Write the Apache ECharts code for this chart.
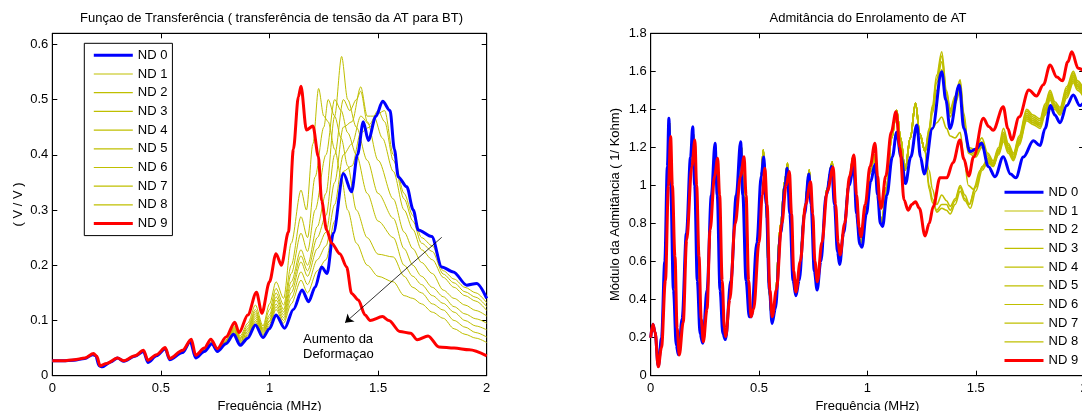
<!DOCTYPE html>
<html><head><meta charset="utf-8">
<script src="https://cdn.jsdelivr.net/npm/echarts@6/dist/echarts.min.js"></script>
<style>html,body{margin:0;padding:0;overflow:hidden;background:#fff}#c{width:1090px;height:411px}</style>
</head><body><div id="c"></div>
<script>
// ---------- tick values ----------
const xTickValues = [0, 0.5, 1, 1.5, 2];
const leftYTickValues = [0, 0.1, 0.2, 0.3, 0.4, 0.5, 0.6];
const rightYTickValues = [0, 0.2, 0.4, 0.6, 0.8, 1, 1.2, 1.4, 1.6, 1.8];
const seriesNames = ['ND 0','ND 1','ND 2','ND 3','ND 4','ND 5','ND 6','ND 7','ND 8','ND 9'];

// ---------- LEFT PANEL: Função de Transferência ----------
const leftND0 = [[0,0.027],[0.05,0.027],[0.1,0.028],[0.15,0.031],[0.185,0.038],[0.2,0.036],[0.215,0.018],[0.23,0.016],[0.27,0.025],[0.3,0.032],[0.33,0.026],[0.38,0.035],[0.42,0.044],[0.44,0.024],[0.48,0.036],[0.52,0.049],[0.54,0.029],[0.6,0.042],[0.635,0.062],[0.66,0.032],[0.7,0.044],[0.735,0.058],[0.76,0.044],[0.8,0.058],[0.835,0.075],[0.865,0.055],[0.9,0.068],[0.935,0.092],[0.97,0.069],[1.0,0.085],[1.03,0.11],[1.07,0.086],[1.11,0.12],[1.15,0.155],[1.18,0.134],[1.21,0.16],[1.24,0.197],[1.265,0.185],[1.294,0.258],[1.34,0.366],[1.378,0.333],[1.405,0.4],[1.432,0.46],[1.455,0.426],[1.49,0.47],[1.521,0.497],[1.555,0.48],[1.575,0.41],[1.593,0.36],[1.632,0.342],[1.662,0.3],[1.685,0.264],[1.747,0.252],[1.793,0.197],[1.846,0.188],[1.908,0.164],[1.954,0.167],[2.0,0.14]];
const leftND9 = [[0,0.027],[0.05,0.027],[0.1,0.029],[0.15,0.032],[0.19,0.04],[0.205,0.035],[0.22,0.018],[0.25,0.022],[0.3,0.032],[0.33,0.027],[0.38,0.036],[0.42,0.046],[0.44,0.028],[0.48,0.038],[0.52,0.051],[0.54,0.031],[0.6,0.046],[0.64,0.066],[0.66,0.037],[0.7,0.05],[0.73,0.066],[0.76,0.049],[0.8,0.07],[0.84,0.097],[0.86,0.078],[0.9,0.11],[0.94,0.151],[0.965,0.113],[1.0,0.17],[1.03,0.221],[1.055,0.2],[1.087,0.26],[1.11,0.41],[1.133,0.505],[1.145,0.524],[1.17,0.445],[1.2,0.452],[1.225,0.397],[1.24,0.317],[1.263,0.264],[1.286,0.24],[1.324,0.221],[1.355,0.197],[1.378,0.149],[1.409,0.137],[1.44,0.11],[1.463,0.1],[1.52,0.107],[1.55,0.1],[1.6,0.08],[1.65,0.077],[1.68,0.065],[1.73,0.072],[1.78,0.052],[1.85,0.05],[1.92,0.047],[2.0,0.036]];
// yellow curves coincide below 0.8 MHz
const leftYellowLow = [[0,0.027],[0.05,0.027],[0.1,0.028],[0.15,0.032],[0.19,0.04],[0.205,0.035],[0.22,0.018],[0.25,0.022],[0.3,0.032],[0.33,0.027],[0.38,0.036],[0.42,0.045],[0.44,0.026],[0.48,0.037],[0.52,0.05],[0.54,0.03],[0.6,0.044],[0.64,0.064],[0.66,0.034],[0.7,0.047],[0.735,0.062],[0.76,0.046]];
const leftND1High = [[0.8,0.059],[0.84,0.078],[0.865,0.058],[0.9,0.072],[0.935,0.097],[0.97,0.073],[1.0,0.09],[1.03,0.12],[1.065,0.095],[1.1,0.13],[1.145,0.173],[1.175,0.15],[1.22,0.19],[1.26,0.21],[1.3,0.28],[1.34,0.37],[1.38,0.38],[1.42,0.44],[1.46,0.45],[1.5,0.475],[1.53,0.48],[1.57,0.4],[1.62,0.33],[1.66,0.29],[1.7,0.25],[1.75,0.235],[1.8,0.19],[1.85,0.175],[1.9,0.16],[1.95,0.15],[2.0,0.132]];
const leftND2High = [[0.8,0.06],[0.84,0.08],[0.865,0.06],[0.9,0.074],[0.935,0.1],[0.97,0.075],[1.0,0.094],[1.03,0.125],[1.065,0.1],[1.1,0.14],[1.145,0.188],[1.175,0.165],[1.22,0.21],[1.26,0.235],[1.3,0.31],[1.34,0.4],[1.38,0.42],[1.42,0.47],[1.46,0.455],[1.5,0.48],[1.53,0.46],[1.57,0.39],[1.62,0.32],[1.66,0.28],[1.7,0.24],[1.75,0.225],[1.8,0.184],[1.85,0.168],[1.9,0.152],[1.95,0.142],[2.0,0.125]];
const leftND3High = [[0.8,0.06],[0.84,0.082],[0.865,0.062],[0.9,0.077],[0.935,0.104],[0.97,0.078],[1.0,0.098],[1.03,0.13],[1.065,0.105],[1.1,0.15],[1.145,0.206],[1.175,0.18],[1.22,0.23],[1.26,0.26],[1.3,0.35],[1.34,0.45],[1.38,0.46],[1.42,0.523],[1.45,0.47],[1.48,0.47],[1.52,0.43],[1.57,0.37],[1.62,0.3],[1.66,0.265],[1.7,0.228],[1.75,0.21],[1.8,0.178],[1.85,0.16],[1.9,0.145],[1.95,0.135],[2.0,0.118]];
const leftND4High = [[0.8,0.061],[0.84,0.084],[0.865,0.063],[0.9,0.08],[0.935,0.108],[0.97,0.08],[1.0,0.1],[1.03,0.137],[1.065,0.11],[1.1,0.16],[1.145,0.217],[1.175,0.19],[1.22,0.25],[1.26,0.29],[1.3,0.4],[1.34,0.5],[1.37,0.48],[1.4,0.5],[1.42,0.515],[1.45,0.46],[1.5,0.39],[1.57,0.32],[1.62,0.26],[1.66,0.23],[1.7,0.205],[1.75,0.185],[1.8,0.155],[1.85,0.14],[1.9,0.128],[1.95,0.118],[2.0,0.108]];
const leftND5High = [[0.8,0.062],[0.84,0.086],[0.865,0.065],[0.9,0.083],[0.935,0.112],[0.97,0.082],[1.0,0.105],[1.03,0.143],[1.065,0.115],[1.1,0.17],[1.145,0.228],[1.175,0.2],[1.22,0.27],[1.26,0.33],[1.3,0.47],[1.332,0.578],[1.36,0.5],[1.4,0.45],[1.45,0.39],[1.5,0.33],[1.57,0.285],[1.62,0.23],[1.66,0.2],[1.7,0.18],[1.75,0.16],[1.8,0.143],[1.85,0.125],[1.9,0.112],[1.95,0.103],[2.0,0.095]];
const leftND6High = [[0.8,0.062],[0.84,0.088],[0.865,0.067],[0.9,0.086],[0.935,0.116],[0.97,0.084],[1.0,0.11],[1.03,0.15],[1.065,0.12],[1.1,0.185],[1.145,0.258],[1.175,0.225],[1.21,0.3],[1.26,0.4],[1.3,0.5],[1.33,0.48],[1.36,0.44],[1.4,0.4],[1.45,0.33],[1.5,0.28],[1.57,0.25],[1.62,0.2],[1.66,0.18],[1.7,0.165],[1.75,0.145],[1.8,0.131],[1.85,0.115],[1.9,0.1],[1.95,0.09],[2.0,0.083]];
const leftND7High = [[0.8,0.063],[0.84,0.09],[0.865,0.069],[0.9,0.09],[0.935,0.12],[0.97,0.086],[1.0,0.12],[1.03,0.158],[1.065,0.128],[1.1,0.2],[1.145,0.288],[1.175,0.25],[1.21,0.36],[1.25,0.45],[1.27,0.5],[1.3,0.47],[1.33,0.43],[1.36,0.38],[1.4,0.3],[1.45,0.25],[1.5,0.22],[1.57,0.215],[1.62,0.18],[1.66,0.16],[1.7,0.15],[1.75,0.13],[1.8,0.119],[1.85,0.1],[1.9,0.088],[1.95,0.078],[2.0,0.07]];
const leftND8High = [[0.8,0.065],[0.84,0.093],[0.865,0.072],[0.9,0.095],[0.935,0.128],[0.97,0.09],[1.0,0.13],[1.03,0.17],[1.065,0.14],[1.1,0.24],[1.145,0.336],[1.17,0.3],[1.2,0.42],[1.226,0.52],[1.25,0.47],[1.27,0.46],[1.3,0.41],[1.33,0.36],[1.36,0.3],[1.4,0.24],[1.45,0.2],[1.5,0.18],[1.57,0.17],[1.62,0.145],[1.66,0.14],[1.7,0.13],[1.75,0.115],[1.8,0.104],[1.85,0.085],[1.9,0.075],[1.95,0.068],[2.0,0.06]];
const arrowStart = [1.793, 0.2506];
const arrowEnd = [1.348, 0.096];

// ---------- RIGHT PANEL: Admitância ----------
const rightND0 = [[0,0.2],[0.01,0.27],[0.02,0.23],[0.035,0.05],[0.05,0.2],[0.065,0.6],[0.077,1.1],[0.084,1.353],[0.092,1.0],[0.105,0.45],[0.118,0.16],[0.128,0.11],[0.145,0.3],[0.165,0.75],[0.184,1.15],[0.194,1.309],[0.203,1.0],[0.215,0.5],[0.228,0.22],[0.24,0.17],[0.26,0.45],[0.28,0.95],[0.297,1.222],[0.307,0.95],[0.32,0.45],[0.333,0.22],[0.345,0.19],[0.37,0.5],[0.395,0.95],[0.415,1.23],[0.425,0.95],[0.44,0.5],[0.455,0.31],[0.465,0.31],[0.49,0.7],[0.51,1.05],[0.522,1.15],[0.533,0.9],[0.548,0.45],[0.56,0.275],[0.575,0.35],[0.6,0.75],[0.62,1.0],[0.63,1.09],[0.642,0.85],[0.657,0.5],[0.67,0.42],[0.685,0.5],[0.71,0.85],[0.73,1.06],[0.74,0.9],[0.755,0.55],[0.768,0.45],[0.785,0.6],[0.81,0.95],[0.835,1.1],[0.848,0.9],[0.862,0.65],[0.872,0.585],[0.89,0.75],[0.915,1.0],[0.937,1.1],[0.95,0.85],[0.965,0.69],[0.975,0.675],[0.995,0.85],[1.015,1.02],[1.035,1.11],[1.047,0.95],[1.06,0.8],[1.07,0.785],[1.09,0.95],[1.115,1.15],[1.135,1.28],[1.155,1.15],[1.176,1.01],[1.2,1.15],[1.228,1.318],[1.245,1.15],[1.262,1.06],[1.3,1.3],[1.343,1.598],[1.362,1.45],[1.381,1.3],[1.424,1.528],[1.445,1.3],[1.473,1.178],[1.5,1.19],[1.527,1.222],[1.558,1.1],[1.589,1.046],[1.627,1.151],[1.66,1.06],[1.685,1.04],[1.72,1.15],[1.766,1.235],[1.797,1.21],[1.82,1.3],[1.845,1.42],[1.865,1.37],[1.889,1.33],[1.92,1.42],[1.95,1.476],[1.98,1.42],[2.0,1.44]];
const rightND9 = [[0,0.2],[0.01,0.27],[0.02,0.23],[0.035,0.047],[0.05,0.15],[0.068,0.5],[0.082,1.0],[0.092,1.257],[0.1,1.0],[0.112,0.626],[0.122,0.25],[0.132,0.109],[0.15,0.28],[0.166,0.713],[0.19,1.1],[0.204,1.239],[0.212,1.0],[0.223,0.626],[0.233,0.3],[0.243,0.179],[0.26,0.35],[0.274,0.766],[0.295,1.05],[0.309,1.143],[0.318,0.95],[0.33,0.5],[0.34,0.25],[0.346,0.205],[0.365,0.4],[0.39,0.8],[0.415,1.05],[0.431,1.151],[0.44,0.95],[0.452,0.5],[0.463,0.31],[0.475,0.35],[0.5,0.7],[0.515,0.95],[0.527,1.09],[0.537,0.9],[0.55,0.45],[0.561,0.31],[0.58,0.45],[0.605,0.8],[0.625,1.0],[0.64,1.073],[0.65,0.85],[0.66,0.55],[0.67,0.44],[0.69,0.6],[0.715,0.9],[0.738,1.02],[0.748,0.85],[0.758,0.6],[0.769,0.494],[0.79,0.7],[0.815,0.97],[0.842,1.096],[0.853,0.9],[0.865,0.7],[0.874,0.635],[0.895,0.8],[0.918,1.05],[0.938,1.16],[0.95,0.95],[0.962,0.78],[0.97,0.73],[0.99,0.9],[1.012,1.1],[1.035,1.222],[1.047,1.05],[1.057,0.92],[1.063,0.88],[1.085,1.05],[1.11,1.28],[1.132,1.388],[1.15,1.2],[1.169,0.924],[1.188,0.87],[1.205,0.9],[1.222,0.915],[1.24,0.88],[1.266,0.735],[1.285,0.8],[1.304,0.889],[1.335,1.04],[1.366,1.04],[1.395,1.12],[1.427,1.239],[1.445,1.14],[1.468,1.05],[1.49,1.15],[1.535,1.353],[1.56,1.31],[1.58,1.29],[1.627,1.414],[1.648,1.3],[1.666,1.24],[1.7,1.36],[1.745,1.502],[1.78,1.47],[1.812,1.53],[1.843,1.634],[1.874,1.57],[1.9,1.55],[1.925,1.65],[1.943,1.703],[1.973,1.616],[2.0,1.6]];
// yellow curves coincide up to ~1.27 MHz
const rightYellowLow = [[0,0.2],[0.01,0.27],[0.02,0.23],[0.035,0.05],[0.05,0.18],[0.066,0.55],[0.079,1.05],[0.087,1.33],[0.095,1.0],[0.108,0.5],[0.12,0.17],[0.13,0.11],[0.147,0.3],[0.166,0.74],[0.186,1.1],[0.198,1.27],[0.207,1.0],[0.218,0.55],[0.23,0.24],[0.242,0.175],[0.26,0.42],[0.28,0.9],[0.3,1.2],[0.31,0.95],[0.323,0.45],[0.335,0.22],[0.345,0.2],[0.37,0.48],[0.395,0.92],[0.42,1.2],[0.43,0.95],[0.445,0.5],[0.458,0.31],[0.468,0.32],[0.493,0.72],[0.51,1.05],[0.52,1.187],[0.532,0.9],[0.546,0.45],[0.558,0.3],[0.572,0.38],[0.6,0.8],[0.618,1.02],[0.632,1.117],[0.643,0.85],[0.657,0.52],[0.668,0.43],[0.685,0.55],[0.71,0.88],[0.732,1.081],[0.742,0.88],[0.755,0.57],[0.767,0.47],[0.787,0.65],[0.812,0.98],[0.838,1.125],[0.85,0.9],[0.863,0.67],[0.872,0.61],[0.892,0.78],[0.915,1.03],[0.936,1.16],[0.948,0.9],[0.962,0.72],[0.972,0.7],[0.993,0.88],[1.013,1.07],[1.033,1.16],[1.046,1.0],[1.058,0.84],[1.067,0.81],[1.088,0.99],[1.112,1.25],[1.135,1.395],[1.153,1.25],[1.174,1.08],[1.198,1.25],[1.222,1.432],[1.242,1.27],[1.266,1.18]];
const rightND1High = [[1.285,1.3],[1.3,1.42],[1.32,1.58],[1.343,1.703],[1.365,1.5],[1.382,1.4],[1.405,1.47],[1.428,1.555],[1.445,1.38],[1.466,1.2],[1.5,1.19],[1.528,1.25],[1.555,1.17],[1.58,1.13],[1.605,1.2],[1.628,1.3],[1.65,1.22],[1.674,1.17],[1.7,1.26],[1.735,1.4],[1.765,1.37],[1.797,1.35],[1.82,1.43],[1.843,1.5],[1.865,1.44],[1.889,1.41],[1.92,1.52],[1.95,1.6],[1.97,1.55],[2.0,1.5]];
const rightND2High = [[1.285,1.29],[1.3,1.41],[1.32,1.56],[1.343,1.68],[1.365,1.49],[1.382,1.39],[1.405,1.46],[1.428,1.54],[1.445,1.36],[1.466,1.19],[1.5,1.17],[1.528,1.23],[1.555,1.16],[1.58,1.12],[1.605,1.19],[1.628,1.28],[1.65,1.21],[1.674,1.16],[1.7,1.25],[1.735,1.39],[1.765,1.36],[1.797,1.34],[1.82,1.42],[1.843,1.49],[1.865,1.43],[1.889,1.4],[1.92,1.51],[1.95,1.59],[1.97,1.54],[2.0,1.49]];
const rightND3High = [[1.285,1.28],[1.3,1.4],[1.32,1.54],[1.343,1.65],[1.365,1.48],[1.382,1.38],[1.405,1.45],[1.428,1.52],[1.445,1.34],[1.466,1.18],[1.5,1.16],[1.528,1.21],[1.555,1.15],[1.58,1.11],[1.605,1.18],[1.628,1.27],[1.65,1.2],[1.674,1.15],[1.7,1.24],[1.735,1.38],[1.765,1.35],[1.797,1.33],[1.82,1.41],[1.843,1.48],[1.865,1.42],[1.889,1.39],[1.92,1.5],[1.95,1.58],[1.97,1.53],[2.0,1.48]];
const rightND4High = [[1.285,1.27],[1.3,1.38],[1.32,1.5],[1.343,1.61],[1.365,1.46],[1.382,1.36],[1.405,1.43],[1.428,1.5],[1.445,1.32],[1.466,1.17],[1.5,1.15],[1.528,1.2],[1.555,1.14],[1.58,1.1],[1.605,1.17],[1.628,1.26],[1.65,1.19],[1.674,1.14],[1.7,1.23],[1.735,1.37],[1.765,1.34],[1.797,1.32],[1.82,1.4],[1.843,1.47],[1.865,1.41],[1.889,1.38],[1.92,1.49],[1.95,1.57],[1.97,1.52],[2.0,1.47]];
const rightND5High = [[1.285,1.25],[1.3,1.3],[1.32,1.33],[1.343,1.36],[1.365,1.3],[1.382,1.26],[1.405,1.25],[1.428,1.28],[1.445,1.15],[1.466,1.0],[1.49,0.98],[1.52,1.08],[1.555,1.13],[1.58,1.1],[1.605,1.18],[1.628,1.26],[1.65,1.2],[1.674,1.14],[1.7,1.22],[1.735,1.36],[1.765,1.33],[1.797,1.32],[1.82,1.4],[1.843,1.47],[1.865,1.42],[1.889,1.39],[1.92,1.49],[1.95,1.57],[1.97,1.52],[2.0,1.48]];
const rightND6High = [[1.285,1.08],[1.3,0.98],[1.32,0.9],[1.343,0.95],[1.365,0.92],[1.382,0.89],[1.405,0.93],[1.428,1.0],[1.45,0.95],[1.47,0.9],[1.5,1.0],[1.53,1.1],[1.555,1.12],[1.58,1.12],[1.605,1.17],[1.628,1.24],[1.65,1.18],[1.674,1.14],[1.7,1.22],[1.735,1.35],[1.765,1.33],[1.797,1.31],[1.82,1.38],[1.843,1.46],[1.865,1.41],[1.889,1.38],[1.92,1.47],[1.95,1.55],[1.97,1.51],[2.0,1.47]];
const rightND7High = [[1.285,1.0],[1.3,0.93],[1.32,0.86],[1.343,0.88],[1.365,0.87],[1.382,0.85],[1.405,0.9],[1.428,0.97],[1.45,0.92],[1.475,0.88],[1.5,0.97],[1.53,1.08],[1.555,1.12],[1.58,1.1],[1.605,1.16],[1.628,1.23],[1.65,1.17],[1.674,1.13],[1.7,1.21],[1.735,1.34],[1.765,1.32],[1.797,1.3],[1.82,1.37],[1.843,1.45],[1.865,1.4],[1.889,1.37],[1.92,1.46],[1.95,1.54],[1.97,1.5],[2.0,1.46]];
const rightND8High = [[1.285,0.98],[1.3,0.91],[1.32,0.87],[1.343,0.9],[1.365,0.9],[1.382,0.87],[1.405,0.92],[1.428,0.99],[1.45,0.93],[1.47,0.9],[1.5,0.99],[1.53,1.1],[1.555,1.14],[1.58,1.11],[1.605,1.18],[1.628,1.25],[1.65,1.19],[1.674,1.15],[1.7,1.23],[1.735,1.36],[1.765,1.34],[1.797,1.32],[1.82,1.39],[1.843,1.47],[1.865,1.42],[1.889,1.39],[1.92,1.48],[1.95,1.56],[1.97,1.52],[2.0,1.48]];

// ---------- build ----------
const FONT = '"Liberation Sans", Arial, Helvetica, sans-serif';
const BLUE = '#0000FF', RED = '#FF0000', YEL = '#BFBF00';
const txt = { color: '#000', fontSize: 13, fontFamily: FONT };

const leftYellowHigh = [leftND1High, leftND2High, leftND3High, leftND4High, leftND5High, leftND6High, leftND7High, leftND8High];
const rightYellowHigh = [rightND1High, rightND2High, rightND3High, rightND4High, rightND5High, rightND6High, rightND7High, rightND8High];

function lineSeries(name, data, color, width, axis, smooth) {
  return { type: 'line', name: name, data: data, xAxisIndex: axis, yAxisIndex: axis,
    symbol: 'none', smooth: smooth, smoothMonotone: 'x', clip: true,
    lineStyle: { color: color, width: width }, itemStyle: { color: color },
    emphasis: { disabled: true }, silent: true, z: 2 };
}

function xAxes(grid) {
  const step = xTickValues[1] - xTickValues[0];
  const base = { gridIndex: grid, type: 'value', min: xTickValues[0], max: xTickValues[xTickValues.length - 1], interval: step,
    splitLine: { show: false },
    axisLine: { show: true, onZero: false, lineStyle: { color: '#000', width: 1 } },
    axisTick: { show: true, inside: true, length: 5, lineStyle: { color: '#000', width: 1 } } };
  return [
    Object.assign({}, base, { position: 'bottom',
      axisLabel: Object.assign({ margin: 6 }, txt),
      name: 'Frequência (MHz)', nameLocation: 'middle', nameGap: 18, nameTextStyle: txt }),
    Object.assign({}, base, { position: 'top', axisLabel: { show: false } })
  ];
}
function yAxes(grid, ticks, max, name, nameGap) {
  const step = +(ticks[1] - ticks[0]).toFixed(6);
  const base = { gridIndex: grid, type: 'value', min: ticks[0], max: max, interval: step,
    splitLine: { show: false },
    axisLine: { show: true, onZero: false, lineStyle: { color: '#000', width: 1 } },
    axisTick: { show: true, inside: true, length: 5, lineStyle: { color: '#000', width: 1 } } };
  return [
    Object.assign({}, base, { position: 'left',
      axisLabel: Object.assign({ margin: 4, formatter: function (v) {
        const k = Math.round(v / step);
        return Math.abs(k * step - v) < 1e-6 ? String(+v.toFixed(2)) : '';
      } }, txt),
      name: name, nameLocation: 'middle', nameGap: nameGap, nameRotate: 90, nameTextStyle: txt }),
    Object.assign({}, base, { position: 'right', axisLabel: { show: false } })
  ];
}

const series = [];
// left panel
for (let i = 0; i < 8; i++) {
  series.push(lineSeries(seriesNames[i + 1], leftYellowLow.concat(leftYellowHigh[i]), YEL, 1, 0, 0.3));
}
series.push(lineSeries(seriesNames[0], leftND0, BLUE, 3, 0, 0.3));
series.push(lineSeries(seriesNames[9], leftND9, RED, 3, 0, 0.3));
// arrow annotation
series.push({ type: 'line', name: 'arrow', xAxisIndex: 0, yAxisIndex: 0, data: [], silent: true,
  markLine: { silent: true, symbol: ['none', 'arrow'], symbolSize: 8, animation: false,
    lineStyle: { color: '#000', width: 0.8, type: 'solid' }, label: { show: false },
    emphasis: { disabled: true },
    data: [[{ coord: arrowStart }, { coord: arrowEnd }]] } });
// right panel
for (let i = 0; i < 8; i++) {
  series.push(lineSeries(seriesNames[i + 1], rightYellowLow.concat(rightYellowHigh[i]), YEL, 1.6, 2, 0.35));
}
series.push(lineSeries(seriesNames[0], rightND0, BLUE, 3, 2, 0.35));
series.push(lineSeries(seriesNames[9], rightND9, RED, 3, 2, 0.35));

const legendData = seriesNames.map(function (n, i) {
  const thick = (i === 0 || i === 9);
  return { name: n, lineStyle: { width: thick ? 3 : 1.2 } };
});
const legendCommon = { orient: 'vertical', itemWidth: 39, itemHeight: 14, itemGap: 4.7,
  selectedMode: false, data: legendData, backgroundColor: '#fff',
  itemStyle: { color: 'rgba(0,0,0,0)', borderColor: 'rgba(0,0,0,0)', borderWidth: 0, opacity: 0 },
  textStyle: Object.assign({ lineHeight: 14 }, txt) };

const option = {
  animation: false,
  backgroundColor: '#fff',
  title: [
    { text: 'Funçao de Transferência ( transferência de tensão da AT para BT)', left: 271.5, top: 12, padding: 0, textAlign: 'center',
      textStyle: Object.assign({ fontWeight: 'normal' }, txt) },
    { text: 'Admitância do Enrolamento de AT', left: 868, top: 12, padding: 0, textAlign: 'center',
      textStyle: Object.assign({ fontWeight: 'normal' }, txt) }
  ],
  grid: [
    { left: 52.3, top: 33.3, width: 434.4, height: 342.4, show: true, borderColor: '#000', borderWidth: 1, backgroundColor: '#fff', outerBoundsMode: 'none', containLabel: false },
    { left: 650.7, top: 33.3, width: 433.4, height: 342.4, show: true, borderColor: '#000', borderWidth: 1, backgroundColor: '#fff', outerBoundsMode: 'none', containLabel: false }
  ],
  xAxis: xAxes(0).concat(xAxes(1)),
  yAxis: yAxes(0, leftYTickValues, 0.62, '( V / V )', 27).concat(yAxes(1, rightYTickValues, 1.8, 'Módulo da Admitância ( 1/ Kohm)', 29)),
  legend: [
    Object.assign({}, legendCommon, { left: 84.3, top: 43.3, padding: [5, 5, 5, 8], borderColor: '#000', borderWidth: 1 }),
    Object.assign({}, legendCommon, { left: 1000, top: 182.3, padding: [3, 12, 3, 3], borderWidth: 0 })
  ],
  graphic: [
    { type: 'text', left: 303, top: 332, silent: true,
      style: { text: 'Aumento da\nDeformaçao', fill: '#000', font: '13px ' + FONT, lineHeight: 14.7 } }
  ],
  series: series
};

const chart = echarts.init(document.getElementById('c'), null, { renderer: 'canvas' });
chart.setOption(option);
</script>
</body></html>
